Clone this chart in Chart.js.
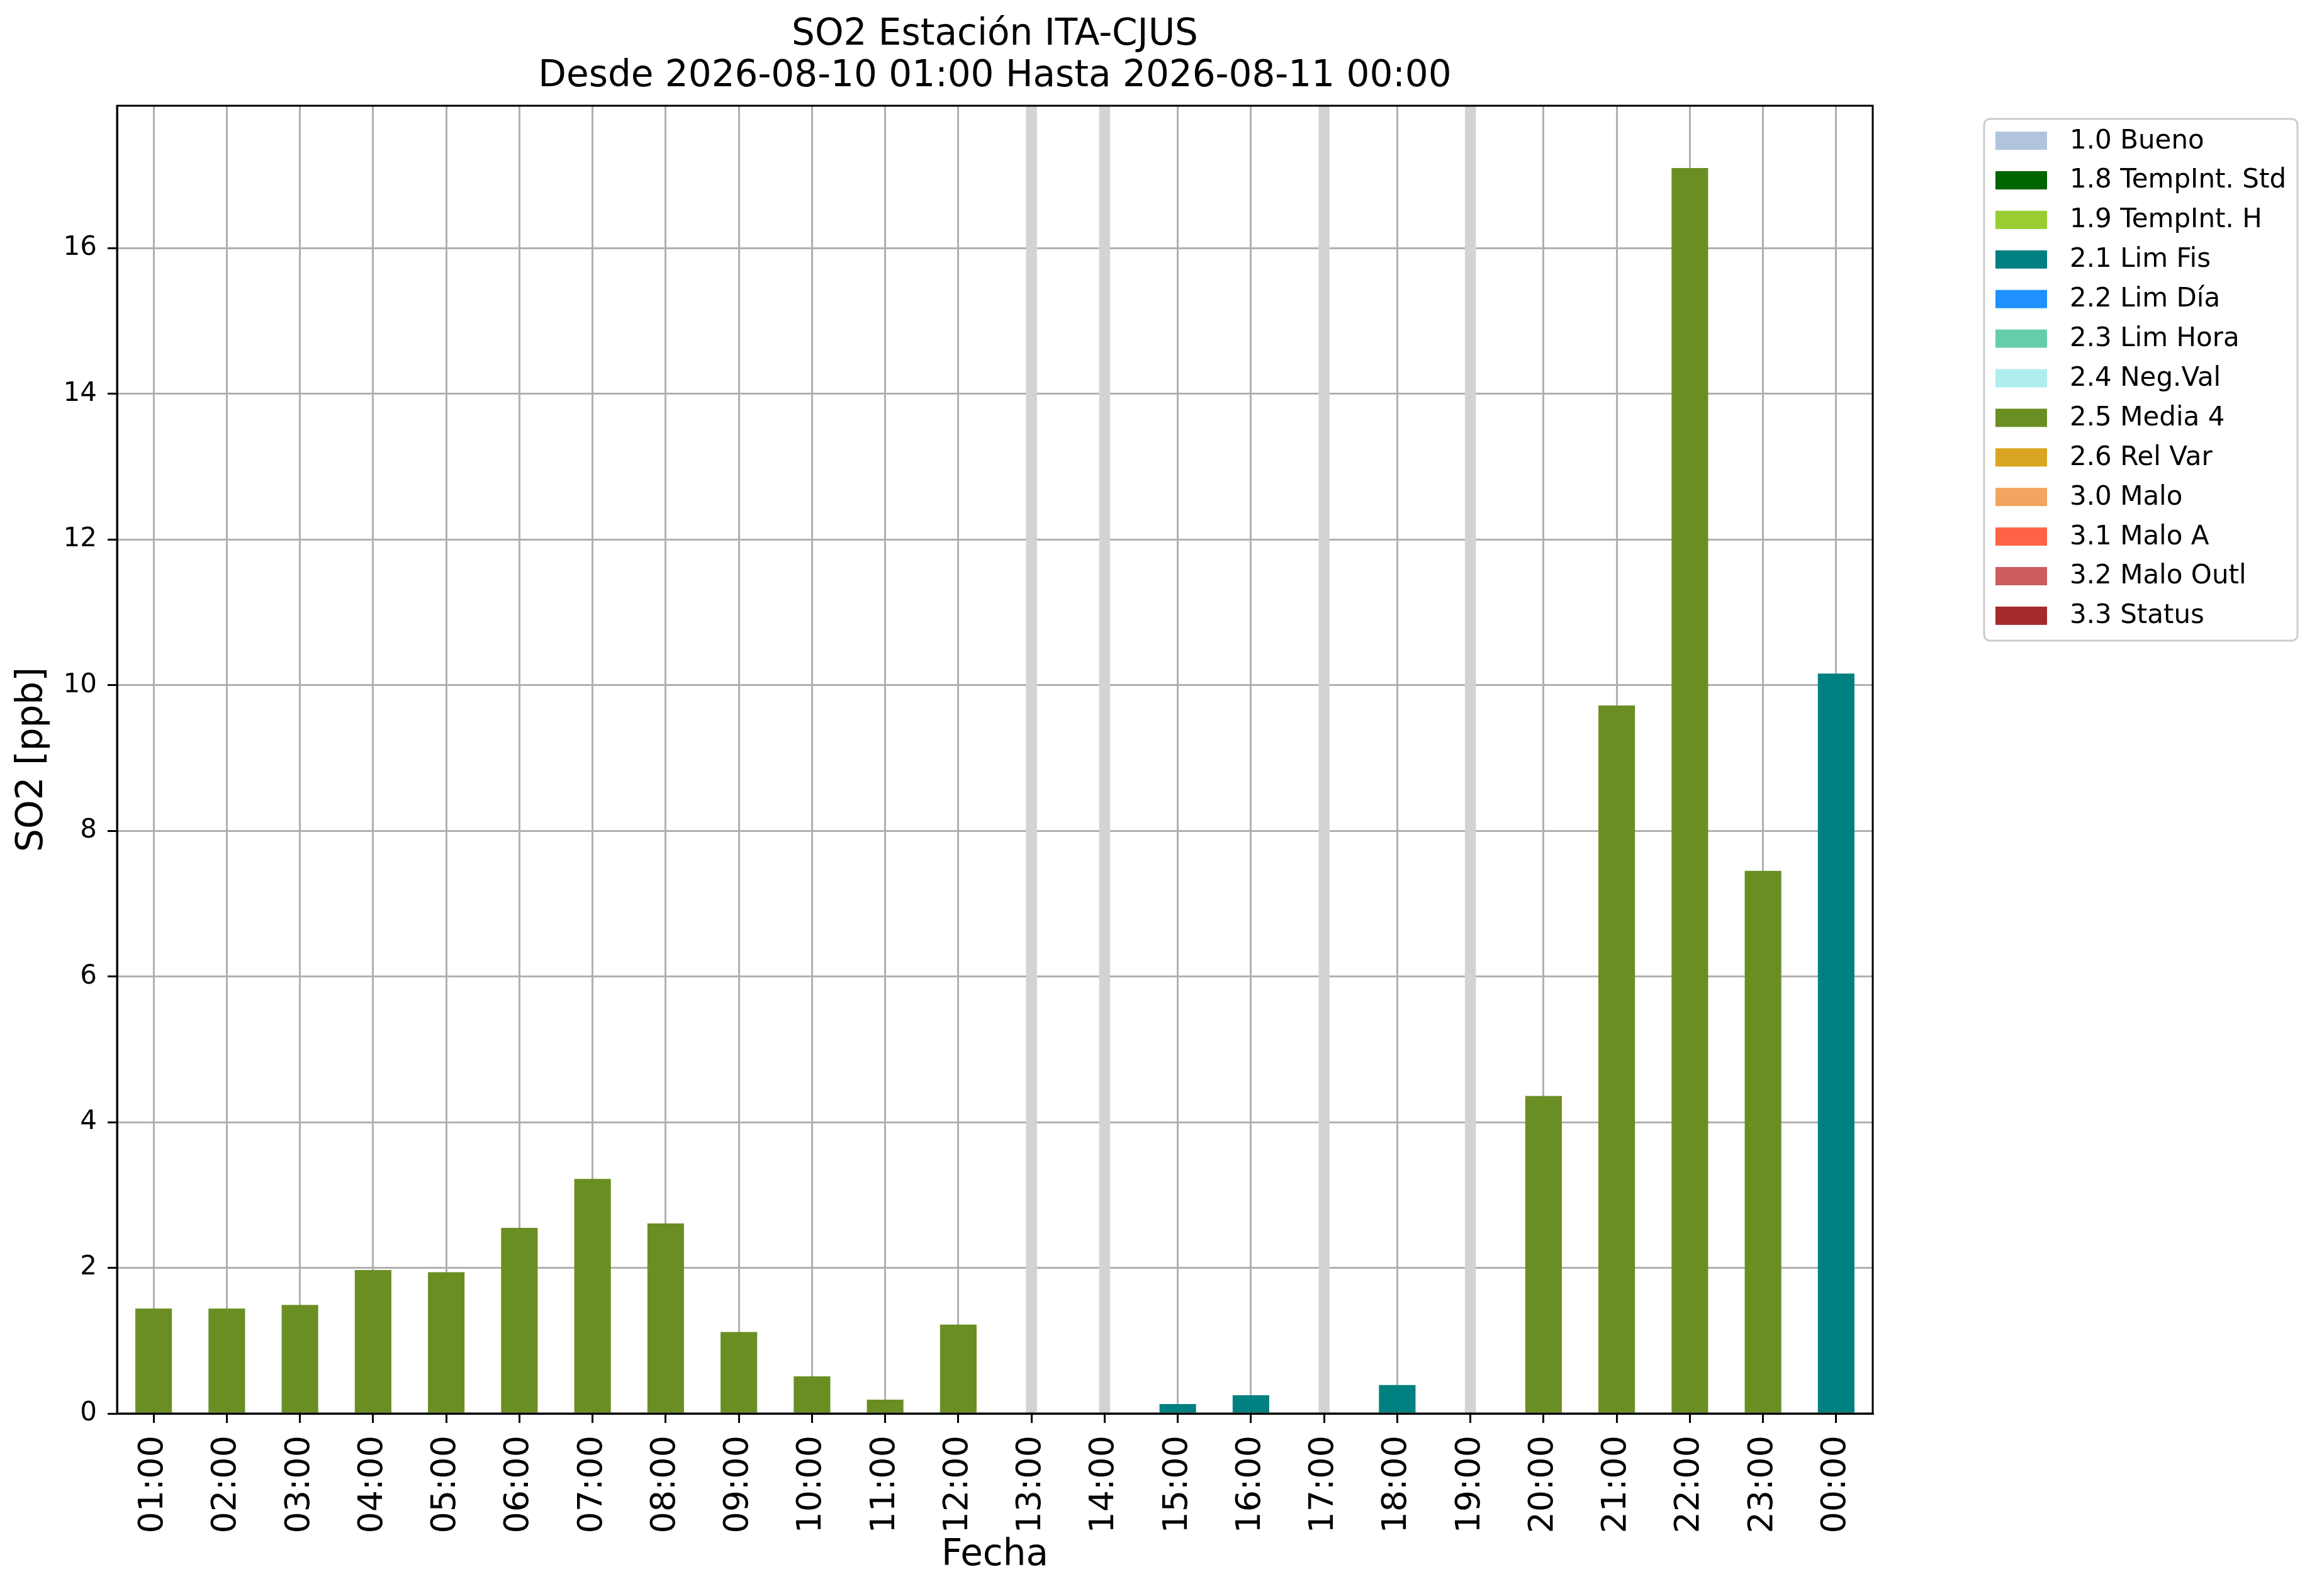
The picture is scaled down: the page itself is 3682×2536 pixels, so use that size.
<!DOCTYPE html>
<html>
<head>
<meta charset="utf-8">
<script src="https://cdn.jsdelivr.net/npm/chart.js@4.4.1/dist/chart.umd.min.js"></script>
<style>
  html, body { margin: 0; padding: 0; background: #fff; }
  #wrap { width: 3682px; height: 2536px; position: relative; }
</style>
</head>
<body>
<div id="wrap"><canvas id="chart"></canvas></div>
<script>
const hours = ["01:00","02:00","03:00","04:00","05:00","06:00","07:00","08:00","09:00","10:00","11:00","12:00",
               "13:00","14:00","15:00","16:00","17:00","18:00","19:00","20:00","21:00","22:00","23:00","00:00"];
const so2 = [1.44, 1.44, 1.49, 1.97, 1.94, 2.55, 3.22, 2.61, 1.12, 0.51, 0.19, 1.22,
             null, null, 0.13, 0.25, null, 0.39, null, 4.36, 9.72, 17.10, 7.45, 10.16];
const flags = ["2.5 Media 4","2.5 Media 4","2.5 Media 4","2.5 Media 4","2.5 Media 4","2.5 Media 4",
               "2.5 Media 4","2.5 Media 4","2.5 Media 4","2.5 Media 4","2.5 Media 4","2.5 Media 4",
               null, null, "2.1 Lim Fis", "2.1 Lim Fis", null, "2.1 Lim Fis", null,
               "2.5 Media 4","2.5 Media 4","2.5 Media 4","2.5 Media 4","2.1 Lim Fis"];
const missingHours = ["13:00","14:00","17:00","19:00"];

const flagNames = ["1.0 Bueno","1.8 TempInt. Std","1.9 TempInt. H","2.1 Lim Fis","2.2 Lim Día","2.3 Lim Hora",
                   "2.4 Neg.Val","2.5 Media 4","2.6 Rel Var","3.0 Malo","3.1 Malo A","3.2 Malo Outl","3.3 Status"];
const flagColors = ["#b0c4de","#006400","#9acd32","#008080","#1e90ff","#66cdaa",
                    "#afeeee","#6b8e23","#daa520","#f4a460","#ff6347","#cd5c5c","#a52a2a"];

const FONT = "DejaVu Sans";
Chart.defaults.color = "#000";
Chart.defaults.font.family = FONT;

const yMax = Math.max(...so2.filter(v => v != null)) * 1.05;

// gray bands for the hours with no data
const bandSet = {
  label: "sin datos",
  isBand: true,
  data: hours.map(h => missingHours.includes(h) ? [0, yMax] : null),
  backgroundColor: "#d3d3d3",
  barPercentage: 0.15,
  categoryPercentage: 1,
  grouped: false,
  order: 2
};

const flagSets = flagNames.map((name, i) => ({
  label: name,
  data: so2.map((v, j) => flags[j] === name ? v : null),
  backgroundColor: flagColors[i],
  barPercentage: 0.5,
  categoryPercentage: 1,
  grouped: false,
  order: 1
}));

// black frame all round the plot
const framePlugin = {
  id: "frame",
  afterDraw(chart) {
    const {ctx, chartArea: a} = chart;
    ctx.save();
    ctx.strokeStyle = "#000";
    ctx.lineWidth = 3;
    ctx.strokeRect(a.left, a.top, a.right - a.left, a.bottom - a.top);
    ctx.restore();
  }
};

// matplotlib-like legend box outside the plot
const flagLegend = {
  id: "flagLegend",
  afterDraw(chart) {
    const ctx = chart.ctx;
    const sets = chart.data.datasets.filter(d => !d.isBand);
    const x0 = 3153, y0 = 189, w = 498, h = 829, r = 9;
    ctx.save();
    ctx.beginPath();
    ctx.roundRect(x0, y0, w, h, r);
    ctx.fillStyle = "rgba(255,255,255,0.8)";
    ctx.fill();
    ctx.lineWidth = 3;
    ctx.strokeStyle = "#cccccc";
    ctx.stroke();
    ctx.font = Chart.helpers.toFont({ family: FONT, size: 42 }).string;
    ctx.textBaseline = "middle";
    ctx.textAlign = "left";
    sets.forEach((d, i) => {
      const cy = 223.6 + i * 62.9;
      ctx.fillStyle = d.backgroundColor;
      ctx.fillRect(3171, cy - 14.5, 82, 29);
      ctx.fillStyle = "#000";
      ctx.fillText(d.label, 3289, cy + 1);
    });
    ctx.restore();
  }
};

new Chart(document.getElementById("chart"), {
  type: "bar",
  data: { labels: hours, datasets: [bandSet, ...flagSets] },
  plugins: [framePlugin, flagLegend],
  options: {
    responsive: true,
    maintainAspectRatio: false,
    devicePixelRatio: 1,
    animation: false,
    layout: { padding: { top: 0, left: 0, right: 706, bottom: 0 } },
    plugins: {
      legend: { display: false },
      tooltip: { enabled: false },
      title: {
        display: true,
        fullSize: false,
        text: ["SO2 Estación ITA-CJUS", "Desde 2026-08-10 01:00 Hasta 2026-08-11 00:00"],
        color: "#000",
        font: { family: FONT, size: 58, weight: "normal", lineHeight: 66 / 58 },
        padding: { top: 23, bottom: 13 }
      }
    },
    scales: {
      x: {
        type: "category",
        offset: true,
        z: 1,
        grid: { offset: false, color: "#b0b0b0", lineWidth: 3, tickColor: "#000", tickLength: 15, tickWidth: 3 },
        border: { display: true, color: "#000", width: 3 },
        ticks: { autoSkip: false, minRotation: 90, maxRotation: 90, padding: 20, color: "#000",
                 font: { family: FONT, size: 54 } },
        title: { display: true, text: "Fecha", color: "#000",
                 font: { family: FONT, size: 58 }, padding: { top: 0, bottom: 29 } },
        afterFit(scale) { scale.height = 290; }
      },
      y: {
        min: 0,
        max: yMax,
        z: 1,
        grid: { color: "#b0b0b0", lineWidth: 3, tickColor: "#000", tickLength: 15, tickWidth: 3 },
        border: { display: true, color: "#000", width: 3 },
        ticks: { stepSize: 2, includeBounds: false, padding: 17, color: "#000",
                 font: { family: FONT, size: 42 } },
        title: { display: true, text: "SO2 [ppb]", color: "#000",
                 font: { family: FONT, size: 58 }, padding: { top: 17, bottom: 0 } },
        afterFit(scale) { scale.width = 186; }
      }
    }
  }
});
</script>
</body>
</html>
